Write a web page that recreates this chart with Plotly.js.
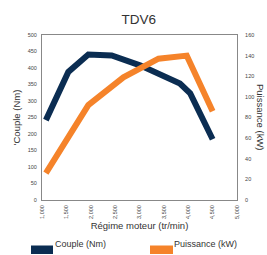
<!DOCTYPE html>
<html><head><meta charset="utf-8">
<script src="https://cdn.plot.ly/plotly-3.0.1.min.js"></script>
<style>html,body{margin:0;padding:0;background:#fff}#c{width:267px;height:255px}</style>
</head><body><div id="c"></div>
<script>
const rpmCouple = [1080, 1540, 1950, 2430, 3010, 3490, 3830, 4040, 4500];
const couple = [242, 388, 441, 438, 408, 378, 353, 323, 184];
const rpmPuissance = [1080, 1950, 2670, 3390, 3970, 4500];
const puissance = [26, 92, 119, 137, 140, 86];
const xTicks = [1000, 1500, 2000, 2500, 3000, 3500, 4000, 4500, 5000];
const navy = '#0b2d52', orange = '#f5832a';

const traces = [
  {x: rpmCouple, y: couple, type: 'scatter', mode: 'lines', name: 'Couple (Nm)',
   line: {color: navy, width: 6}, showlegend: false},
  {x: rpmPuissance, y: puissance, type: 'scatter', mode: 'lines', name: 'Puissance (kW)', yaxis: 'y2',
   line: {color: orange, width: 6}, showlegend: false}
];
const px = v => (v - 42) / 195, py = v => (200 - v) / 165;
const layout = {
  width: 267, height: 255,
  margin: {l: 42, r: 30, t: 35, b: 55},
  paper_bgcolor: '#fff', plot_bgcolor: '#fff',
  font: {family: 'Liberation Sans, Arial, sans-serif', color: '#333'},
  title: {text: 'TDV6', x: 0.52, xanchor: 'center', y: 0.925, yanchor: 'middle', font: {size: 13.5, color: '#333'}},
  xaxis: {range: [1000, 5000], tickvals: xTicks, tickformat: ',', tickangle: -90,
          tickfont: {size: 5.5, color: '#444'}, showgrid: false, zeroline: false,
          showline: true, linecolor: '#888', linewidth: 1, mirror: true, ticks: '', ticklabelstandoff: 2,
          title: {text: 'Régime moteur (tr/min)', font: {size: 9.5, color: '#333'}, standoff: 4}},
  yaxis: {range: [0, 500], dtick: 50, tickfont: {size: 5.5, color: '#444'}, showgrid: false, zeroline: false,
          showline: true, linecolor: '#888', linewidth: 1, ticks: '', ticklabelstandoff: 3,
          title: {text: "'Couple (Nm)", font: {size: 9.5, color: '#333'}, standoff: 5}},
  yaxis2: {range: [0, 160], dtick: 20, overlaying: 'y', side: 'right', tickfont: {size: 5.5, color: '#444'},
          showgrid: false, zeroline: false, showline: true, linecolor: '#888', linewidth: 1, ticks: '', ticklabelstandoff: 6},
  annotations: [
    {xref: 'paper', yref: 'paper', x: px(261), y: py(117), xanchor: 'center', yanchor: 'middle',
     text: 'Puissance (kW)', textangle: 90, showarrow: false, font: {size: 9.5, color: '#333'}},
    {xref: 'paper', yref: 'paper', x: px(54), y: py(249.5), xanchor: 'left', text: 'Couple (Nm)', borderpad: 0,
     showarrow: false, font: {size: 9, color: '#333'}},
    {xref: 'paper', yref: 'paper', x: px(173), y: py(249.5), xanchor: 'left', text: 'Puissance (kW)', borderpad: 0,
     showarrow: false, font: {size: 9, color: '#333'}}
  ],
  shapes: [
    {type: 'rect', xref: 'paper', yref: 'paper', x0: px(31), x1: px(53), y0: py(254), y1: py(245.5), fillcolor: navy, line: {width: 0}},
    {type: 'rect', xref: 'paper', yref: 'paper', x0: px(150), x1: px(173), y0: py(254), y1: py(245.5), fillcolor: orange, line: {width: 0}}
  ]
};
Plotly.newPlot('c', traces, layout, {staticPlot: true, displayModeBar: false});
</script></body></html>
